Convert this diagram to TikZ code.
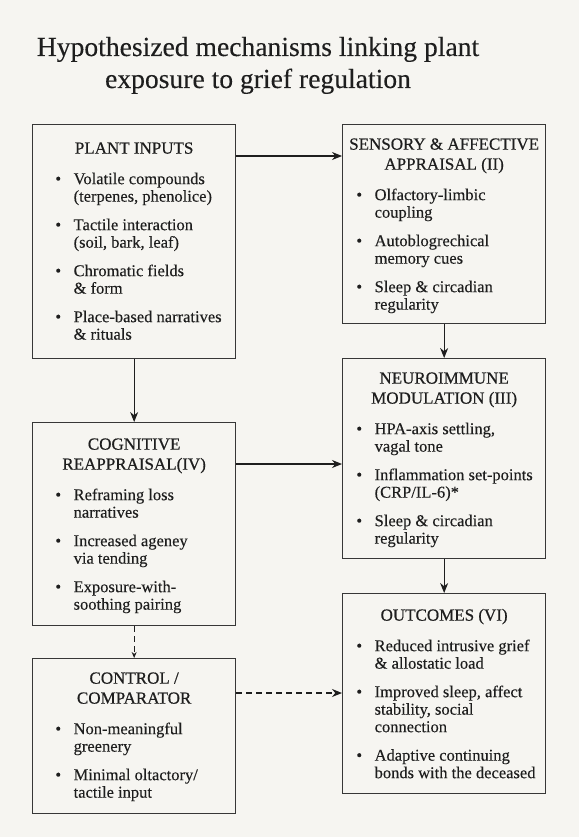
\documentclass[tikz,border=0pt]{standalone}
\usepackage{fontspec}
\setmainfont{Liberation Serif}[FakeBold=0.2]
\newfontfamily\hdfamily{Liberation Serif}[FakeBold=0.6]
\usepackage{xcolor}
\usetikzlibrary{arrows.meta}

\definecolor{paper}{RGB}{246,245,241}
\definecolor{ink}{RGB}{30,30,30}
\definecolor{edge}{RGB}{55,55,55}

\newcommand{\hd}{\hdfamily\fontsize{17}{20}\selectfont}
\newcommand{\bd}{\fontsize{16.5}{17.5}\selectfont}
\newcommand{\itm}{\par\vspace{11pt}\noindent\llap{\textbullet\hspace{12.5pt}}}
% #1 first baseline, #2 box height, #3 text indent, #4 heading, #5 bullets
\newcommand{\panel}[5]{%
  \parbox[c][#2][t]{203pt}{%
    {\centering\hd\rule{0pt}{#1}#4\par}\vspace{2pt}%
    {\raggedright\bd\leftskip=#3\relax #5\par}}}

\begin{document}
\begin{tikzpicture}[x=1pt,y=1pt,
    box/.style={draw=edge,line width=1.3pt,fill=paper,text=ink,inner sep=0pt,anchor=north west},
    arr/.style={draw=ink,line width=1.1pt,-{Stealth[length=10pt,width=8pt]}},
    darr/.style={arr,dash pattern=on 6pt off 4pt}]
  \fill[paper] (0,0) rectangle (579,-837);
  \useasboundingbox (0,0) rectangle (579,-837);
  \node[text=ink,font=\fontsize{27.6}{32}\selectfont,align=center,anchor=base] (title) at (258,-88)
    {Hypothesized mechanisms linking plant\\exposure to grief regulation};

  \node[box] (inputs) at (32,-124) {\panel{29pt}{234pt}{41pt}{PLANT INPUTS}{%
    \itm Volatile compounds\\(terpenes, phenolice)
    \itm Tactile interaction\\(soil, bark, leaf)
    \itm Chromatic fields\\\& form
    \itm Place-based narratives\\\& rituals}};
  \node[box] (appraisal) at (342,-124) {\panel{25pt}{199pt}{32pt}{SENSORY \& AFFECTIVE\\APPRAISAL (II)}{%
    \itm Olfactory-limbic\\coupling
    \itm Autoblogrechical\\memory cues
    \itm Sleep \& circadian\\regularity}};
  \node[box] (neuro) at (342,-358) {\panel{25pt}{200pt}{32pt}{NEUROIMMUNE\\MODULATION (III)}{%
    \itm HPA-axis settling,\\vagal tone
    \itm Inflammation set-points\\(CRP/IL-6)*
    \itm Sleep \& circadian\\regularity}};
  \node[box] (cognitive) at (32,-422) {\panel{27pt}{203pt}{41pt}{COGNITIVE\\REAPPRAISAL(IV)}{%
    \itm Reframing loss\\narratives
    \itm Increased ageney\\via tending
    \itm Exposure-with-\\soothing pairing}};
  \node[box] (control) at (32,-658) {\panel{25pt}{155pt}{41pt}{CONTROL /\\COMPARATOR}{%
    \itm Non-meaningful\\greenery
    \itm Minimal oltactory/\\tactile input}};
  \node[box] (outcomes) at (342,-593) {\panel{27pt}{200pt}{32pt}{OUTCOMES (VI)}{%
    \itm Reduced intrusive grief\\\& allostatic load
    \itm Improved sleep, affect\\stability, social\\connection
    \itm Adaptive continuing\\bonds with the deceased}};

  \draw[arr] ([yshift=-32pt]inputs.north east) coordinate (c1) -- (c1 -| appraisal.west);
  \draw[arr] (appraisal.south) -- (neuro.north);
  \draw[arr] (inputs.south) -- (cognitive.north);
  \draw[arr] ([yshift=-42pt]cognitive.north east) coordinate (c4) -- (c4 -| neuro.west);
  \draw[arr] (neuro.south) -- (outcomes.north);
  \draw[darr,-{Stealth[length=6pt,width=5pt]}] (cognitive.south) -- (control.north);
  \draw[darr] ([yshift=-35pt]control.north east) coordinate (c5) -- (c5 -| outcomes.west);
\end{tikzpicture}
\end{document}
